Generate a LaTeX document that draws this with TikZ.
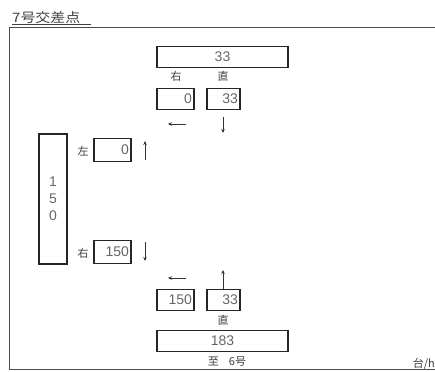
\documentclass[tikz,border=0pt]{standalone}
\usepackage{fontspec}
\setmainfont{Liberation Sans}
\newfontfamily\jp{Noto Sans CJK JP}
\usetikzlibrary{arrows.meta}
\begin{document}
\begin{tikzpicture}[x=1pt,y=-1pt,
  box/.style={draw=black!85,line width=1.6pt,inner sep=1.5pt,font=\fontsize{14}{14}\selectfont,text=black!60},
  wide/.style={box,minimum width=131pt,minimum height=21pt,align=center},
  sbox/.style={box,minimum width=37pt,minimum height=21pt,text width=33pt,align=right},
  lbl/.style={font=\jp\fontsize{11}{11}\selectfont,text=black!75,inner sep=0pt},
  arr/.style={draw=black!80,line width=0.8pt,-{Stealth[length=4pt,width=3.5pt]}}]
\useasboundingbox (0,0) rectangle (435,371);
\fill[white] (0,0) rectangle (435,371);
% title and frame
\node[lbl,anchor=south west,font=\jp\fontsize{13}{13}\selectfont,xscale=1.15] (title) at (12,24) {7号交差点};
\draw[black!75,line width=0.8pt] (12,24.5) -- (91,24.5);
\draw[black!70,line width=0.9pt] (436,27) -- (9,27) -- (9,369) -- (436,369);
% top approach
\node[wide] (tin) at (222.5,57) {33};
\node[lbl] (tr) at (176,76) {右};
\node[lbl] (ts) at (223,76) {直};
\node[sbox] (tlb) at (175.5,99) {0};
\node[sbox,minimum width=33pt,text width=29pt] (tsb) at (223.5,99) {33};
\coordinate (ta1) at (186,124); \coordinate (ta2) at (168,124);
\draw[arr] (ta1) -- (ta2);
\coordinate (tb1) at (223,117); \coordinate (tb2) at (223,133);
\draw[arr] (tb1) -- (tb2);
% left approach
\node[box,minimum width=28pt,minimum height=130pt,align=center,font=\fontsize{14}{17}\selectfont] (lin) at (53,199) {1\\5\\0};
\node[lbl] (ll) at (83,151) {左};
\node[sbox,minimum height=23pt] (llb) at (112.5,150) {0};
\coordinate (la1) at (145,160); \coordinate (la2) at (145,141);
\draw[arr] (la1) -- (la2);
\node[lbl] (lr) at (83,253) {右};
\node[sbox,minimum height=23pt] (lrb) at (112.5,252) {150};
\coordinate (lb1) at (145,242); \coordinate (lb2) at (145,261);
\draw[arr] (lb1) -- (lb2);
% bottom approach
\coordinate (ba1) at (186,278); \coordinate (ba2) at (168,278);
\draw[arr] (ba1) -- (ba2);
\coordinate (bb1) at (223,290); \coordinate (bb2) at (223,270);
\draw[arr] (bb1) -- (bb2);
\node[sbox] (blb) at (175.5,300) {150};
\node[sbox,minimum width=33pt,text width=29pt] (bsb) at (223.5,300) {33};
\node[lbl] (bs) at (223,320) {直};
\node[wide] (bin) at (222.5,341) {183};
\node[lbl] (bto) at (227,362) {至\hspace{10pt}6号};
\node[lbl,anchor=east] (unit) at (435,364) {台/h};
\end{tikzpicture}
\end{document}
